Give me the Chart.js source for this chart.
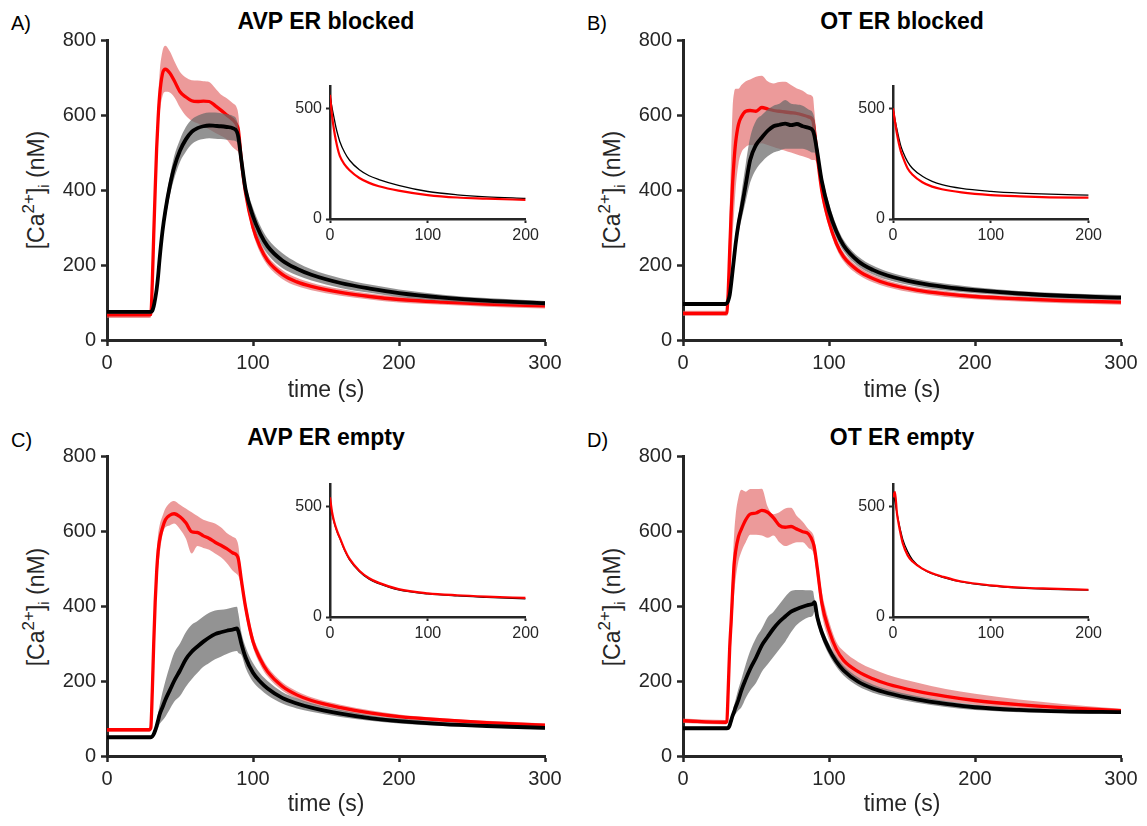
<!DOCTYPE html>
<html>
<head>
<meta charset="utf-8">
<script src="https://cdn.jsdelivr.net/npm/chart.js@4.4.0/dist/chart.umd.min.js"></script>
<style>
  html, body { margin: 0; padding: 0; background: #ffffff; }
  body { width: 1147px; height: 826px; position: relative; overflow: hidden;
         font-family: "Liberation Sans", Arial, Helvetica, sans-serif; color: #262626; }
  canvas { position: absolute; }
  .title { position: absolute; width: 438px; text-align: center; font-weight: bold;
           font-size: 23px; line-height: 23px; color: #000; white-space: nowrap; }
  .letter { position: absolute; font-size: 20px; line-height: 20px; color: #000; }
  .ylab { position: absolute; font-size: 23px; line-height: 23px; white-space: nowrap;
          transform: translate(-50%, -50%) rotate(-90deg); color: #262626; }
  .ylab sup { font-size: 17px; vertical-align: 10px; line-height: 0; }
  .ylab sub { font-size: 15px; vertical-align: -5px; line-height: 0; }
</style>
</head>
<body>
<div class="letter" style="left:11px;top:13px;">A)</div>
<div class="letter" style="left:587px;top:13px;">B)</div>
<div class="letter" style="left:11px;top:430px;">C)</div>
<div class="letter" style="left:587px;top:430px;">D)</div>
<div class="title" style="left:107px;top:10px;">AVP ER blocked</div>
<div class="title" style="left:683px;top:10px;">OT ER blocked</div>
<div class="title" style="left:107px;top:426px;">AVP ER empty</div>
<div class="title" style="left:683px;top:426px;">OT ER empty</div>
<div class="ylab" style="left:36px;top:190px;">[Ca<sup>2+</sup>]<sub>i</sub> (nM)</div>
<div class="ylab" style="left:612px;top:190px;">[Ca<sup>2+</sup>]<sub>i</sub> (nM)</div>
<div class="ylab" style="left:36px;top:607px;">[Ca<sup>2+</sup>]<sub>i</sub> (nM)</div>
<div class="ylab" style="left:612px;top:607px;">[Ca<sup>2+</sup>]<sub>i</sub> (nM)</div>

<canvas id="mA" width="570" height="410" style="left:0px;top:0px;"></canvas>
<canvas id="mB" width="570" height="410" style="left:576px;top:0px;"></canvas>
<canvas id="mC" width="570" height="410" style="left:0px;top:416px;"></canvas>
<canvas id="mD" width="570" height="410" style="left:576px;top:416px;"></canvas>
<canvas id="iA" width="262" height="194" style="left:280px;top:66px;"></canvas>
<canvas id="iB" width="262" height="194" style="left:843px;top:66px;"></canvas>
<canvas id="iC" width="262" height="194" style="left:280px;top:464px;"></canvas>
<canvas id="iD" width="262" height="194" style="left:843px;top:464px;"></canvas>

<script>
// ---------- time axis (s) ----------
const T = [0,29,30,31,32,33,34,35,36,38,40,43,46,50,54,58,62,66,70,74,78,82,86,89,90,92,95,100,105,110,120,130,140,160,180,200,230,260,300];

// ---------- Panel A: AVP ER blocked ----------
const A_red   = [67,67,68,150,280,400,510,590,650,710,722,712,692,662,648,638,636,637,636,625,613,600,588,572,560,480,390,300,247,212,175,155,143,127,116,108,101,96,91];
const A_redHi = [75,75,76,170,300,430,550,640,710,770,785,770,745,715,700,693,692,690,688,672,655,645,632,618,600,505,405,315,262,225,187,166,153,136,124,116,108,103,98];
const A_redLo = [59,59,60,130,260,370,470,540,600,650,662,660,648,620,598,585,578,570,562,553,545,535,515,505,500,455,375,285,232,199,163,144,133,118,108,100,94,89,84];
const A_blk   = [75,75,75,78,90,110,135,170,215,290,345,410,460,505,535,555,565,570,572,571,570,568,565,555,540,480,400,330,283,250,212,190,174,152,137,125,113,105,98];
const A_blkHi = [80,80,80,83,97,120,147,185,232,310,368,435,490,535,568,588,598,604,607,607,605,602,598,585,565,500,420,352,305,271,232,207,189,165,148,135,121,112,104];
const A_blkLo = [70,70,70,73,83,100,123,155,198,270,322,385,430,475,502,522,532,536,538,537,536,534,532,528,515,460,380,308,261,229,192,173,159,139,126,115,105,98,92];

// ---------- Panel B: OT ER blocked ----------
const B_red   = [71,71,72,130,240,340,420,480,525,575,595,610,612,610,620,616,612,610,608,606,604,600,595,585,560,490,400,315,258,222,185,164,150,133,123,116,110,105,101];
const B_redHi = [78,78,79,200,350,500,620,660,670,670,680,690,695,702,705,690,684,688,689,680,671,665,655,648,610,515,420,330,271,234,196,174,159,141,131,123,117,112,108];
const B_redLo = [64,64,65,75,140,200,280,340,400,470,500,515,520,520,525,520,515,510,505,500,495,490,485,480,480,465,380,300,245,210,174,154,141,125,115,109,103,98,94];
const B_blk   = [96,96,98,105,120,150,185,220,255,310,350,415,480,520,540,558,570,574,577,573,576,570,566,558,545,500,425,345,290,252,210,187,172,153,141,133,124,118,113];
const B_blkHi = [101,101,103,110,128,160,198,235,272,335,390,470,540,585,600,615,625,630,640,630,628,625,615,605,590,520,445,365,307,267,223,199,183,163,150,141,131,125,120];
const B_blkLo = [91,91,93,100,112,140,172,205,238,285,320,370,420,455,475,490,500,505,510,510,510,510,505,500,500,480,405,325,273,237,197,175,161,143,132,125,117,111,106];

// ---------- Panel C: AVP ER empty ----------
const C_red   = [70,70,75,170,300,410,490,545,575,608,630,642,646,638,622,598,596,587,580,570,562,553,542,535,525,470,395,305,258,225,186,163,148,129,115,105,96,89,82];
const C_redHi = [75,75,80,190,330,450,540,590,615,640,660,675,680,670,660,650,640,630,625,620,610,595,585,575,560,490,415,322,273,238,197,173,157,137,122,111,101,94,87];
const C_redLo = [65,65,70,150,270,370,440,500,535,590,610,615,620,605,580,540,560,555,550,540,530,515,495,485,480,450,375,290,243,212,175,153,139,121,108,99,91,84,77];
const C_blk   = [50,50,50,52,58,68,80,95,110,130,150,175,200,228,258,278,292,305,316,325,330,334,337,340,332,300,262,222,198,180,155,140,129,113,101,93,85,80,75];
const C_blkHi = [54,54,54,54,62,75,95,115,135,170,200,240,275,300,330,350,360,372,382,388,390,392,396,398,380,330,290,248,220,200,171,154,141,123,109,100,91,85,80];
const C_blkLo = [46,46,46,50,54,60,66,75,85,95,105,125,145,160,185,205,222,238,248,258,265,272,278,280,275,270,235,198,178,162,140,127,118,104,94,87,80,76,71];

// ---------- Panel D: OT ER empty ----------
const D_red   = [94,90,92,180,290,360,440,510,545,585,605,630,645,648,655,650,635,615,610,612,605,598,592,570,555,500,410,335,285,255,225,206,192,173,159,148,137,129,121];
const D_redHi = [100,96,98,200,330,420,510,590,640,690,710,705,712,712,713,665,645,650,660,662,640,625,605,592,580,520,440,360,305,280,251,232,217,196,179,166,151,139,126];
const D_redLo = [88,84,86,160,250,300,370,430,470,520,545,570,590,590,588,582,588,570,560,565,570,570,555,545,530,470,380,310,262,232,201,184,172,157,146,137,128,123,116];
const D_blk   = [74,74,74,75,82,95,108,118,130,150,175,205,232,262,295,318,340,358,372,385,392,398,403,406,410,370,330,285,252,228,198,180,168,151,139,130,123,119,117];
const D_blkHi = [78,78,78,79,85,100,118,135,150,180,205,245,280,315,340,370,385,405,425,440,443,443,442,440,420,385,345,300,266,241,210,191,178,160,147,137,129,124,121];
const D_blkLo = [70,70,70,71,78,88,98,105,112,122,130,155,175,195,225,245,265,285,305,330,350,362,370,375,385,355,315,270,238,215,186,169,158,142,131,123,117,114,112];

// ---------- Insets (decay phase) ----------
const IT = [0,2,4,6,8,10,15,20,30,40,50,70,100,130,160,200];
const IA_blk = [560,505,460,415,380,350,300,265,222,195,178,152,124,109,100,93];
const IA_red = [560,470,405,355,315,285,245,220,185,163,148,128,108,97,92,86];
const IB_blk = [500,450,405,365,330,305,258,228,193,170,155,138,125,117,112,108];
const IB_red = [500,440,385,340,305,280,228,200,166,146,134,120,108,102,98,96];
const IC_blk = [530,470,430,400,375,355,300,258,205,170,150,122,104,95,89,82];
const IC_red = [540,476,434,404,379,358,304,262,209,175,154,126,107,98,92,86];
const ID_blk = [560,520,470,425,385,350,295,258,218,195,180,158,140,130,125,121];
const ID_red = [540,565,470,415,370,332,278,250,218,197,183,160,143,133,128,123];

// ---------- Tick values ----------
const MAIN_X_TICKS = [0,100,200,300];
const MAIN_Y_TICKS = [0,200,400,600,800];
const INSET_X_TICKS = [0,100,200];
const INSET_Y_TICKS = [0,500];

const FONT = '"Liberation Sans", Arial, Helvetica, sans-serif';
const AXIS = '#262626';

function pts(xs, ys) { return xs.map((x, i) => ({ x: x, y: ys[i] })); }

function mainChart(id, red, redHi, redLo, blk, blkHi, blkLo, titlePadBottom) {
  const line = { pointRadius: 0, cubicInterpolationMode: 'monotone' };
  new Chart(document.getElementById(id), {
    type: 'line',
    data: {
      datasets: [
        Object.assign({ data: pts(T, redHi), fill: '+1', backgroundColor: 'rgba(224,92,92,0.62)', borderColor: 'rgba(0,0,0,0)', borderWidth: 0, order: 4 }, line),
        Object.assign({ data: pts(T, redLo), fill: false, borderColor: 'rgba(0,0,0,0)', borderWidth: 0, order: 4 }, line),
        Object.assign({ data: pts(T, red), fill: false, borderColor: '#ff0000', borderWidth: 3.3, order: 3 }, line),
        Object.assign({ data: pts(T, blkHi), fill: '+1', backgroundColor: 'rgba(105,105,105,0.72)', borderColor: 'rgba(0,0,0,0)', borderWidth: 0, order: 2 }, line),
        Object.assign({ data: pts(T, blkLo), fill: false, borderColor: 'rgba(0,0,0,0)', borderWidth: 0, order: 2 }, line),
        Object.assign({ data: pts(T, blk), fill: false, borderColor: '#000000', borderWidth: 3.8, order: 1 }, line)
      ]
    },
    options: {
      responsive: false, animation: false, devicePixelRatio: 1,
      layout: { padding: { left: 0, right: 25, top: 40, bottom: 0 } },
      plugins: { legend: { display: false }, tooltip: { enabled: false }, title: { display: false } },
      scales: {
        x: {
          type: 'linear', min: 0, max: 300,
          afterBuildTicks: s => { s.ticks = MAIN_X_TICKS.map(v => ({ value: v })); },
          ticks: { font: { size: 20, family: FONT }, color: AXIS, padding: 5, maxRotation: 0, autoSkip: false },
          grid: { drawOnChartArea: false, drawTicks: true, tickLength: 6, tickWidth: 2.5, tickColor: AXIS },
          border: { display: true, color: AXIS, width: 3 },
          title: { display: true, text: 'time (s)', color: AXIS, font: { size: 23, family: FONT }, padding: { top: 0, bottom: titlePadBottom } },
          afterFit: s => { s.height = 70; }
        },
        y: {
          type: 'linear', min: 0, max: 800,
          afterBuildTicks: s => { s.ticks = MAIN_Y_TICKS.map(v => ({ value: v })); },
          ticks: { font: { size: 20, family: FONT }, color: AXIS, padding: 5, autoSkip: false },
          grid: { drawOnChartArea: false, drawTicks: true, tickLength: 6, tickWidth: 2.5, tickColor: AXIS },
          border: { display: true, color: AXIS, width: 3 },
          afterFit: s => { s.width = 107; }
        }
      }
    }
  });
}

function insetChart(id, red, blk) {
  const line = { pointRadius: 0, cubicInterpolationMode: 'monotone', fill: false };
  new Chart(document.getElementById(id), {
    type: 'line',
    data: {
      datasets: [
        Object.assign({ data: pts(IT, red), borderColor: '#ff0000', borderWidth: 2.2, order: 1 }, line),
        Object.assign({ data: pts(IT, blk), borderColor: '#000000', borderWidth: 1.3, order: 2 }, line)
      ]
    },
    options: {
      responsive: false, animation: false, devicePixelRatio: 1,
      layout: { padding: { left: 0, right: 16, top: 20, bottom: 0 } },
      plugins: { legend: { display: false }, tooltip: { enabled: false } },
      scales: {
        x: {
          type: 'linear', min: 0, max: 200,
          afterBuildTicks: s => { s.ticks = INSET_X_TICKS.map(v => ({ value: v })); },
          ticks: { font: { size: 16, family: FONT }, color: AXIS, padding: 3, maxRotation: 0, autoSkip: false },
          grid: { drawOnChartArea: false, drawTicks: true, tickLength: 4, tickWidth: 2, tickColor: AXIS },
          border: { display: true, color: AXIS, width: 2.5 },
          afterFit: s => { s.height = 41; }
        },
        y: {
          type: 'linear', min: 0, max: 600,
          afterBuildTicks: s => { s.ticks = INSET_Y_TICKS.map(v => ({ value: v })); },
          ticks: { font: { size: 16, family: FONT }, color: AXIS, padding: 4, autoSkip: false },
          grid: { drawOnChartArea: false, drawTicks: true, tickLength: 4, tickWidth: 2, tickColor: AXIS },
          border: { display: true, color: AXIS, width: 2.5 },
          afterFit: s => { s.width = 50; }
        }
      }
    }
  });
}

mainChart('mA', A_red, A_redHi, A_redLo, A_blk, A_blkHi, A_blkLo, 6);
mainChart('mB', B_red, B_redHi, B_redLo, B_blk, B_blkHi, B_blkLo, 6);
mainChart('mC', C_red, C_redHi, C_redLo, C_blk, C_blkHi, C_blkLo, 8);
mainChart('mD', D_red, D_redHi, D_redLo, D_blk, D_blkHi, D_blkLo, 8);
insetChart('iA', IA_red, IA_blk);
insetChart('iB', IB_red, IB_blk);
insetChart('iC', IC_red, IC_blk);
insetChart('iD', ID_red, ID_blk);
</script>
</body>
</html>
